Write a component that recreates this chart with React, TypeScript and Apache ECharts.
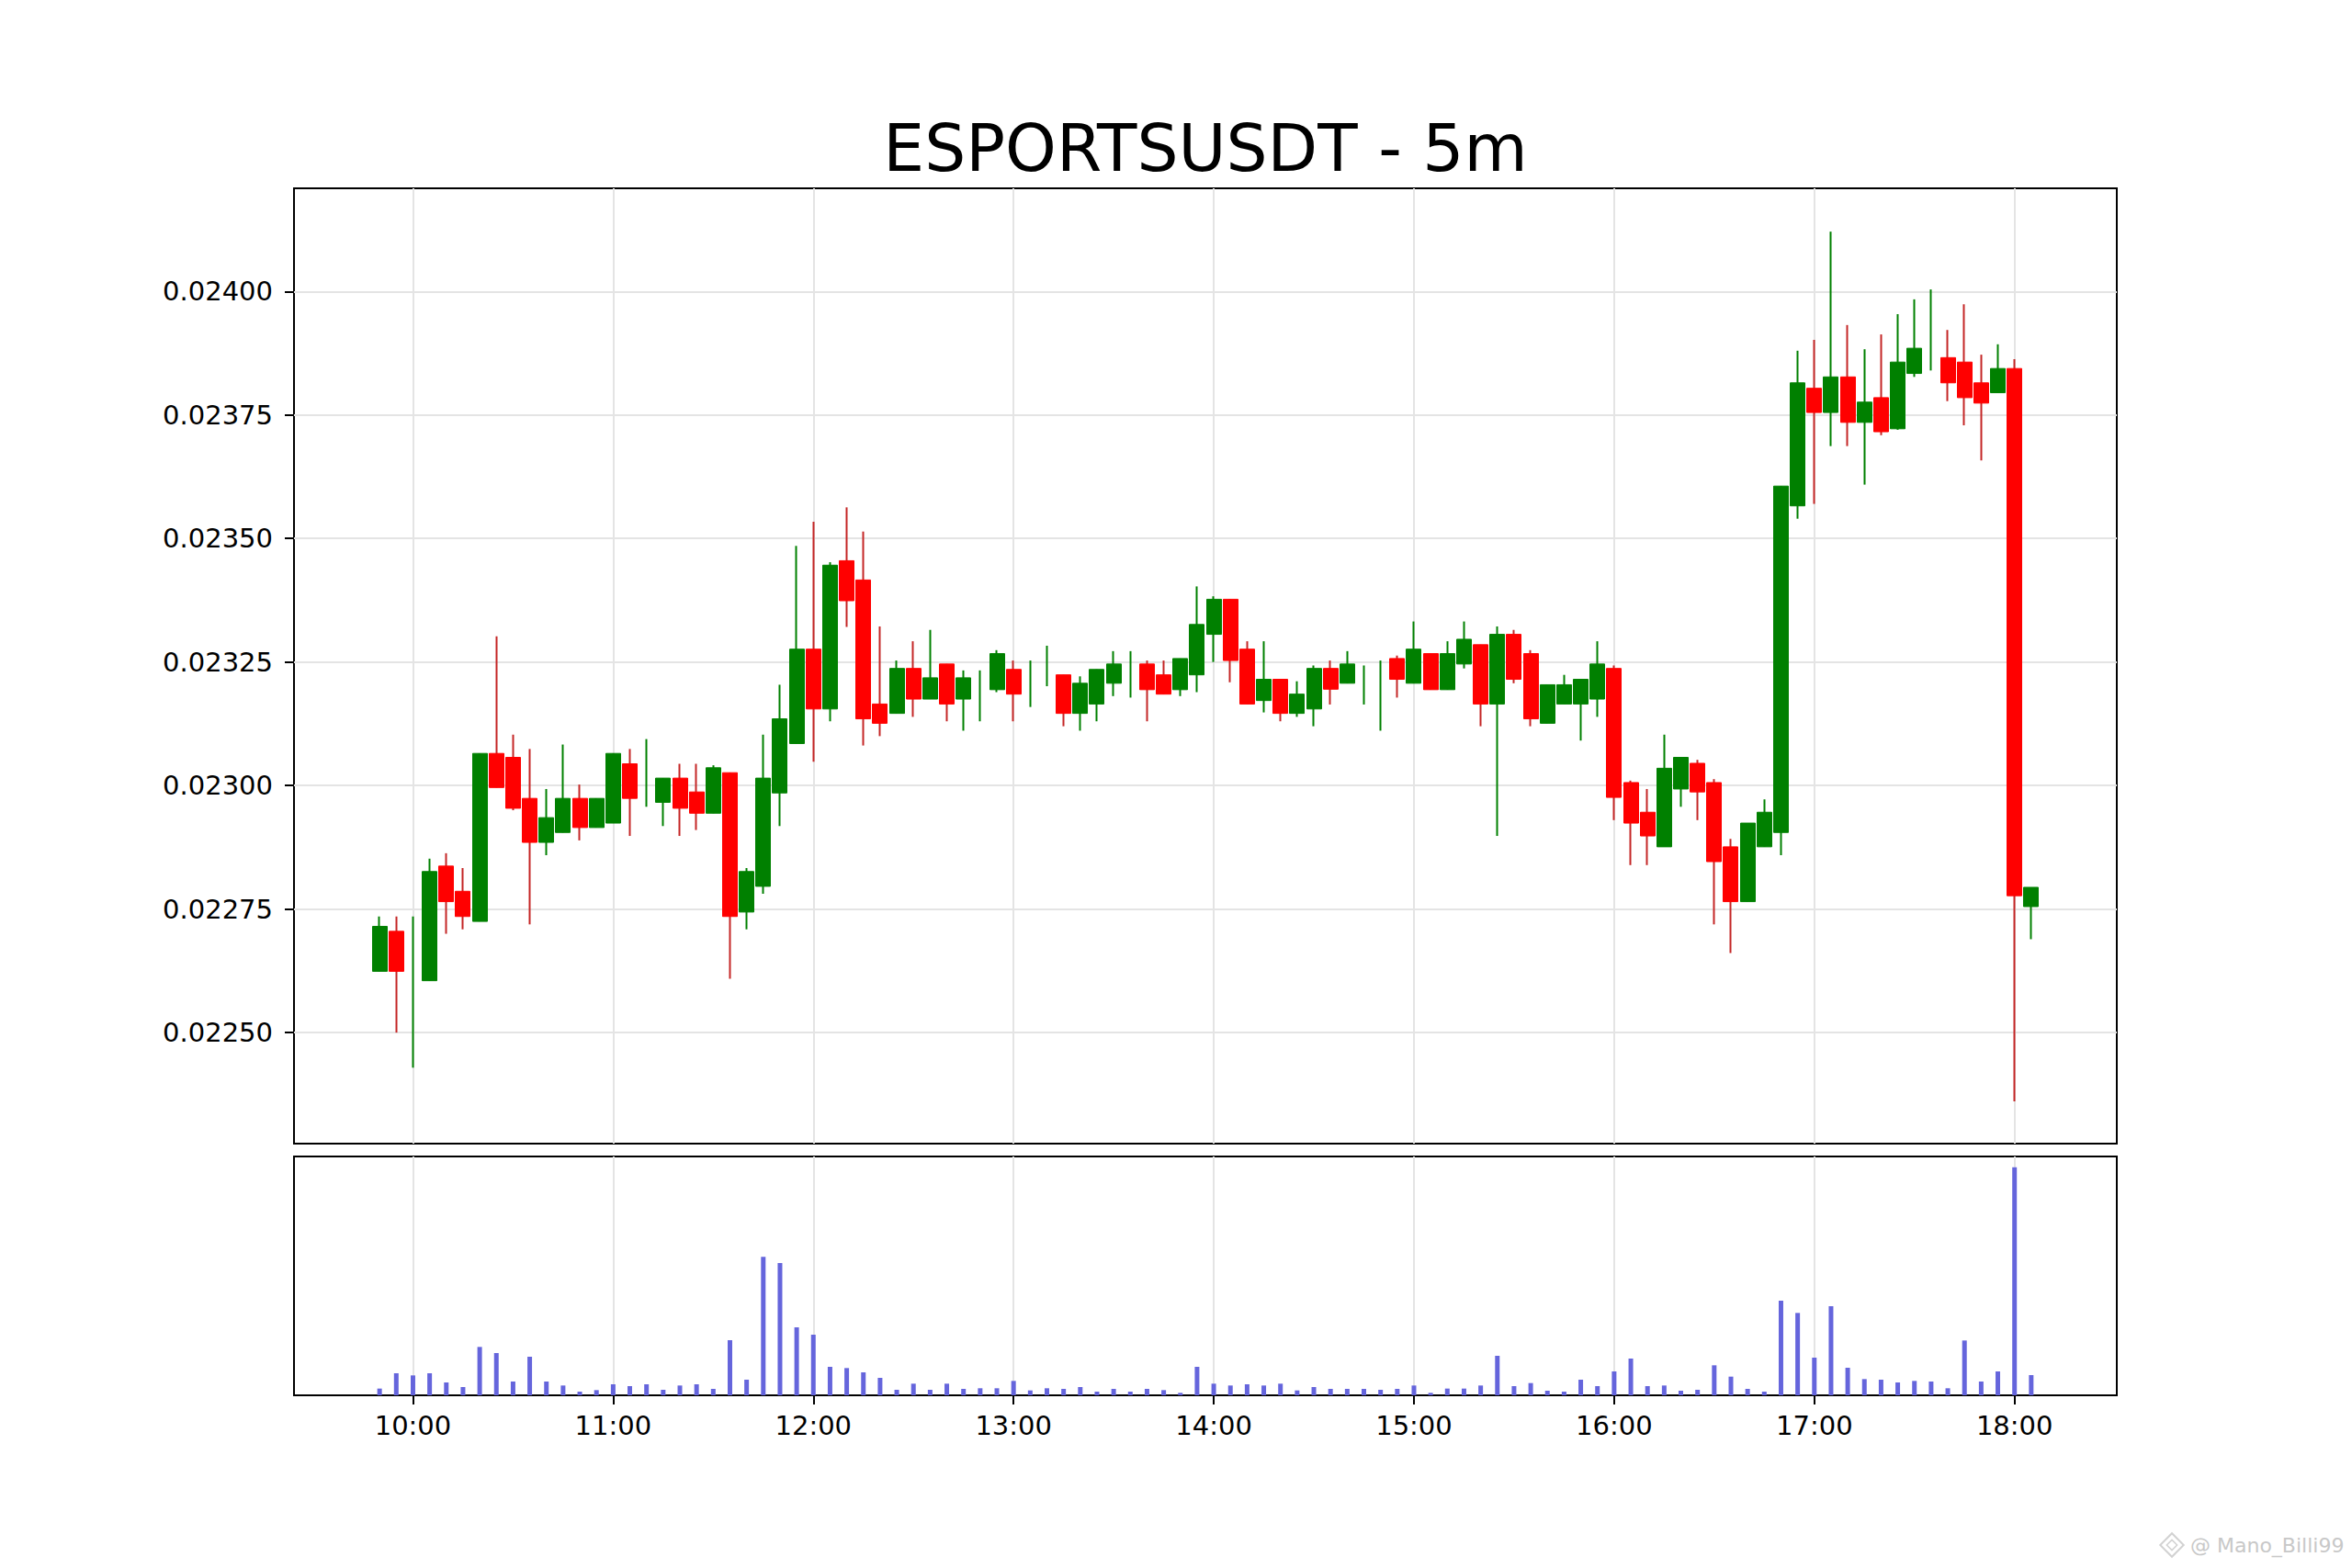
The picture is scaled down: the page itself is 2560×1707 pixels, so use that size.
import React, { useEffect, useRef } from "react";
import * as echarts from "echarts";

const TITLE = "ESPORTSUSDT - 5m";
const WATERMARK = "@ Mano_Billi99";

const TIMES = [
  "09:50", "09:55",
  "10:00", "10:05", "10:10", "10:15", "10:20", "10:25", "10:30", "10:35", "10:40", "10:45", "10:50", "10:55",
  "11:00", "11:05", "11:10", "11:15", "11:20", "11:25", "11:30", "11:35", "11:40", "11:45", "11:50", "11:55",
  "12:00", "12:05", "12:10", "12:15", "12:20", "12:25", "12:30", "12:35", "12:40", "12:45", "12:50", "12:55",
  "13:00", "13:05", "13:10", "13:15", "13:20", "13:25", "13:30", "13:35", "13:40", "13:45", "13:50", "13:55",
  "14:00", "14:05", "14:10", "14:15", "14:20", "14:25", "14:30", "14:35", "14:40", "14:45", "14:50", "14:55",
  "15:00", "15:05", "15:10", "15:15", "15:20", "15:25", "15:30", "15:35", "15:40", "15:45", "15:50", "15:55",
  "16:00", "16:05", "16:10", "16:15", "16:20", "16:25", "16:30", "16:35", "16:40", "16:45", "16:50", "16:55",
  "17:00", "17:05", "17:10", "17:15", "17:20", "17:25", "17:30", "17:35", "17:40", "17:45", "17:50", "17:55",
  "18:00", "18:05",
];

const OPEN = [
  0.022624, 0.022705,
  0.022624, 0.022605, 0.022837, 0.022786, 0.022725, 0.023065, 0.023057, 0.022974, 0.022885, 0.022905, 0.022974, 0.022915,
  0.022924, 0.023044, 0.023000, 0.022966, 0.023015, 0.022987, 0.022944, 0.023026, 0.022744, 0.022796, 0.022985, 0.023085,
  0.023276, 0.023155, 0.023455, 0.023416, 0.023165, 0.023146, 0.023237, 0.023175, 0.023246, 0.023175, 0.023180, 0.023194,
  0.023235, 0.023200, 0.023240, 0.023224, 0.023146, 0.023165, 0.023207, 0.023220, 0.023246, 0.023224, 0.023194, 0.023224,
  0.023306, 0.023377, 0.023276, 0.023172, 0.023215, 0.023146, 0.023155, 0.023237, 0.023207, 0.023200, 0.023180, 0.023257,
  0.023207, 0.023267, 0.023194, 0.023246, 0.023285, 0.023165, 0.023306, 0.023267, 0.023126, 0.023165, 0.023165, 0.023175,
  0.023237, 0.023006, 0.022946, 0.022876, 0.022993, 0.023045, 0.023006, 0.022876, 0.022765, 0.022876, 0.022905, 0.023566,
  0.023804, 0.023755, 0.023827, 0.023735, 0.023785, 0.023722, 0.023834, 0.023880, 0.023866, 0.023857, 0.023815, 0.023795,
  0.023844, 0.022755,
];

const CLOSE = [
  0.022715, 0.022624,
  0.022624, 0.022826, 0.022765, 0.022735, 0.023065, 0.022996, 0.022954, 0.022885, 0.022935, 0.022974, 0.022915, 0.022974,
  0.023065, 0.022974, 0.023000, 0.023015, 0.022954, 0.022944, 0.023036, 0.022735, 0.022826, 0.023015, 0.023135, 0.023276,
  0.023155, 0.023446, 0.023374, 0.023135, 0.023126, 0.023237, 0.023175, 0.023218, 0.023165, 0.023218, 0.023180, 0.023267,
  0.023185, 0.023200, 0.023240, 0.023146, 0.023207, 0.023235, 0.023246, 0.023220, 0.023194, 0.023185, 0.023257, 0.023326,
  0.023377, 0.023253, 0.023165, 0.023215, 0.023146, 0.023185, 0.023237, 0.023195, 0.023246, 0.023200, 0.023180, 0.023215,
  0.023276, 0.023194, 0.023267, 0.023296, 0.023165, 0.023306, 0.023215, 0.023135, 0.023204, 0.023204, 0.023215, 0.023246,
  0.022976, 0.022924, 0.022898, 0.023035, 0.023057, 0.022987, 0.022846, 0.022765, 0.022924, 0.022946, 0.023606, 0.023815,
  0.023755, 0.023827, 0.023735, 0.023776, 0.023716, 0.023857, 0.023885, 0.023880, 0.023815, 0.023785, 0.023774, 0.023844,
  0.022777, 0.022794,
];

const LOW = [
  0.022624, 0.022500,
  0.022429, 0.022605, 0.022700, 0.022709, 0.022725, 0.022996, 0.022950, 0.022719, 0.022859, 0.022905, 0.022889, 0.022915,
  0.022924, 0.022898, 0.022957, 0.022918, 0.022898, 0.022910, 0.022944, 0.022609, 0.022709, 0.022781, 0.022918, 0.023085,
  0.023048, 0.023130, 0.023321, 0.023081, 0.023100, 0.023146, 0.023139, 0.023175, 0.023130, 0.023111, 0.023130, 0.023189,
  0.023130, 0.023159, 0.023201, 0.023120, 0.023111, 0.023130, 0.023181, 0.023178, 0.023130, 0.023185, 0.023181, 0.023189,
  0.023250, 0.023209, 0.023165, 0.023148, 0.023130, 0.023139, 0.023120, 0.023164, 0.023207, 0.023164, 0.023111, 0.023178,
  0.023207, 0.023194, 0.023194, 0.023237, 0.023120, 0.022898, 0.023207, 0.023120, 0.023126, 0.023165, 0.023091, 0.023139,
  0.022930, 0.022839, 0.022839, 0.022876, 0.022957, 0.022930, 0.022719, 0.022661, 0.022765, 0.022876, 0.022859, 0.023540,
  0.023570, 0.023687, 0.023687, 0.023609, 0.023709, 0.023720, 0.023827, 0.023840, 0.023778, 0.023729, 0.023658, 0.023795,
  0.022361, 0.022689,
];

const HIGH = [
  0.022735, 0.022735,
  0.022735, 0.022852, 0.022863, 0.022833, 0.023065, 0.023302, 0.023103, 0.023074, 0.022993, 0.023083, 0.023002, 0.022974,
  0.023065, 0.023074, 0.023094, 0.023015, 0.023044, 0.023044, 0.023041, 0.023026, 0.022833, 0.023103, 0.023204, 0.023485,
  0.023534, 0.023452, 0.023563, 0.023514, 0.023322, 0.023253, 0.023292, 0.023315, 0.023246, 0.023233, 0.023233, 0.023274,
  0.023253, 0.023253, 0.023283, 0.023224, 0.023221, 0.023235, 0.023272, 0.023272, 0.023253, 0.023253, 0.023257, 0.023403,
  0.023383, 0.023377, 0.023292, 0.023292, 0.023215, 0.023211, 0.023243, 0.023253, 0.023272, 0.023243, 0.023253, 0.023263,
  0.023332, 0.023267, 0.023292, 0.023332, 0.023285, 0.023322, 0.023315, 0.023274, 0.023204, 0.023224, 0.023215, 0.023292,
  0.023243, 0.023010, 0.022993, 0.023103, 0.023057, 0.023052, 0.023013, 0.022892, 0.022924, 0.022972, 0.023606, 0.023880,
  0.023902, 0.024121, 0.023932, 0.023883, 0.023913, 0.023954, 0.023984, 0.024004, 0.023922, 0.023974, 0.023872, 0.023893,
  0.023863, 0.022794,
];

const VOLUME = [
  22, 72,
  65, 72, 42, 27, 158, 138, 45, 126, 45, 32, 12, 17,
  36, 30, 36, 18, 32, 36, 21, 180, 51, 452, 432, 222,
  198, 93, 89, 75, 57, 18, 38, 18, 38, 21, 23, 23,
  47, 16, 23, 21, 27, 12, 21, 12, 21, 17, 8, 93,
  38, 32, 36, 32, 38, 16, 27, 21, 21, 21, 18, 21,
  32, 8, 22, 22, 32, 129, 30, 40, 15, 12, 51, 30,
  78, 120, 30, 32, 15, 18, 98, 61, 21, 12, 309, 269,
  123, 291, 90, 53, 51, 42, 47, 45, 23, 179, 45, 78,
  745, 66,
];

const X_TICKS = ["10:00", "11:00", "12:00", "13:00", "14:00", "15:00", "16:00", "17:00", "18:00"];
const Y_TICKS = [0.0225, 0.02275, 0.023, 0.02325, 0.0235, 0.02375, 0.024];

// axis limits (minutes since midnight / price / volume)
const X_MIN = 564.35;
const X_MAX = 1110.65;
const Y_MIN = 0.0222753;
const Y_MAX = 0.0242087;
const VOL_MAX = 780;

const UP = "#008000";
const DOWN = "#ff0000";
const DOWN_WICK = "#c42626";
const VOL_COLOR = "#6565dc";
const GRID_COLOR = "#e4e4e4";
const FONT = "DejaVu Sans";

const toMin = (t: string) => {
  const [h, m] = t.split(":").map(Number);
  return h * 60 + m;
};
const fmtMin = (v: number) => {
  const h = Math.floor(v / 60);
  const m = Math.round(v - h * 60);
  return String(h).padStart(2, "0") + ":" + String(m).padStart(2, "0");
};

export default function App() {
  const ref = useRef<HTMLDivElement>(null);

  useEffect(() => {
    if (!ref.current) return;
    const chart = echarts.init(ref.current, null, { renderer: "svg" });

    const xs = TIMES.map(toMin);
    const xTickVals = X_TICKS.map(toMin);

    const wickData = xs.map((x, i) => {
      const up = CLOSE[i] >= OPEN[i];
      const c = up ? UP : DOWN_WICK;
      return {
        value: [x, OPEN[i], CLOSE[i], LOW[i], HIGH[i]],
        itemStyle: { color: c, color0: c, borderColor: c, borderColor0: c },
      };
    });

    const bodyData = xs
      .map((x, i) => {
        if (OPEN[i] === CLOSE[i]) return null;
        const up = CLOSE[i] > OPEN[i];
        const c = up ? UP : DOWN;
        const lo = Math.min(OPEN[i], CLOSE[i]);
        const hi = Math.max(OPEN[i], CLOSE[i]);
        return {
          value: [x, OPEN[i], CLOSE[i], lo, hi],
          itemStyle: { color: c, color0: c, borderColor: c, borderColor0: c },
        };
      })
      .filter((d) => d !== null);

    const volData = xs.map((x, i) => [x, VOLUME[i]]);

    const labelStyle = { color: "#000", fontSize: 29, fontFamily: FONT };

    const option: any = {
      animation: false,
      backgroundColor: "#ffffff",
      textStyle: { fontFamily: FONT },
      grid: [
        {
          left: 320, top: 205, width: 1984, height: 1040,
          show: true, borderColor: "#000", borderWidth: 2, backgroundColor: "transparent",
          containLabel: false,
        },
        {
          left: 320, top: 1259, width: 1984, height: 260,
          show: true, borderColor: "#000", borderWidth: 2, backgroundColor: "transparent",
          containLabel: false,
        },
      ],
      xAxis: [
        {
          type: "value", gridIndex: 0, min: X_MIN, max: X_MAX,
          axisLine: { show: false },
          axisTick: { show: false, customValues: xTickVals },
          axisLabel: { show: false, customValues: xTickVals },
          splitLine: { show: true, lineStyle: { color: GRID_COLOR, width: 2 } },
        },
        {
          type: "value", gridIndex: 1, min: X_MIN, max: X_MAX,
          axisLine: { show: false },
          axisTick: {
            show: true, inside: false, length: 10, customValues: xTickVals,
            lineStyle: { color: "#000", width: 2 },
          },
          axisLabel: {
            show: true, customValues: xTickVals, margin: 18, ...labelStyle,
            formatter: (v: number) => fmtMin(v),
          },
          splitLine: { show: true, lineStyle: { color: GRID_COLOR, width: 2 } },
        },
      ],
      yAxis: [
        {
          type: "value", gridIndex: 0, min: Y_MIN, max: Y_MAX, scale: true,
          axisLine: { show: false },
          axisTick: {
            show: true, inside: false, length: 10, customValues: Y_TICKS,
            lineStyle: { color: "#000", width: 2 },
          },
          axisLabel: {
            show: true, customValues: Y_TICKS, margin: 23, ...labelStyle,
            formatter: (v: number) => v.toFixed(5),
          },
          splitLine: { show: true, lineStyle: { color: GRID_COLOR, width: 2 } },
        },
        {
          type: "value", gridIndex: 1, min: 0, max: VOL_MAX,
          axisLine: { show: false },
          axisTick: { show: false },
          axisLabel: { show: false },
          splitLine: { show: false },
        },
      ],
      series: [
        {
          name: "wick",
          type: "candlestick",
          xAxisIndex: 0, yAxisIndex: 0,
          barWidth: 0.01,
          dimensions: ["t", "open", "close", "lowest", "highest"],
          encode: { x: 0, y: [1, 2, 3, 4] },
          itemStyle: { borderWidth: 2 },
          data: wickData,
          silent: true,
          z: 2,
        },
        {
          name: "body",
          type: "candlestick",
          xAxisIndex: 0, yAxisIndex: 0,
          barWidth: 16.5,
          dimensions: ["t", "open", "close", "lowest", "highest"],
          encode: { x: 0, y: [1, 2, 3, 4] },
          itemStyle: { borderWidth: 1 },
          data: bodyData,
          silent: true,
          z: 3,
        },
        {
          name: "volume",
          type: "bar",
          xAxisIndex: 1, yAxisIndex: 1,
          barWidth: 5,
          itemStyle: { color: VOL_COLOR },
          data: volData,
          silent: true,
        },
      ],
      graphic: [
        {
          type: "text",
          x: 1312, y: 161,
          style: {
            text: TITLE, fill: "#000", fontSize: 71, fontFamily: FONT,
            align: "center", verticalAlign: "middle",
          },
        },
        {
          type: "group",
          x: 2364, y: 1682,
          children: [
            { type: "rect", rotation: Math.PI / 4, shape: { x: -9, y: -9, width: 18, height: 18 }, style: { fill: "none", stroke: "#d2d2d2", lineWidth: 2 } },
            { type: "rect", rotation: Math.PI / 4, shape: { x: -4, y: -4, width: 8, height: 8 }, style: { fill: "none", stroke: "#d2d2d2", lineWidth: 1.5 } },
          ],
        },
        {
          type: "text",
          x: 2384, y: 1682,
          style: {
            text: WATERMARK, fill: "#c8c8c8", fontSize: 22, fontFamily: FONT,
            align: "left", verticalAlign: "middle",
          },
        },
      ],
    };

    chart.setOption(option);
    return () => chart.dispose();
  }, []);

  return (
    <div
      ref={ref}
      style={{ position: "fixed", left: 0, top: 0, width: 2560, height: 1707, background: "#fff" }}
    />
  );
}
